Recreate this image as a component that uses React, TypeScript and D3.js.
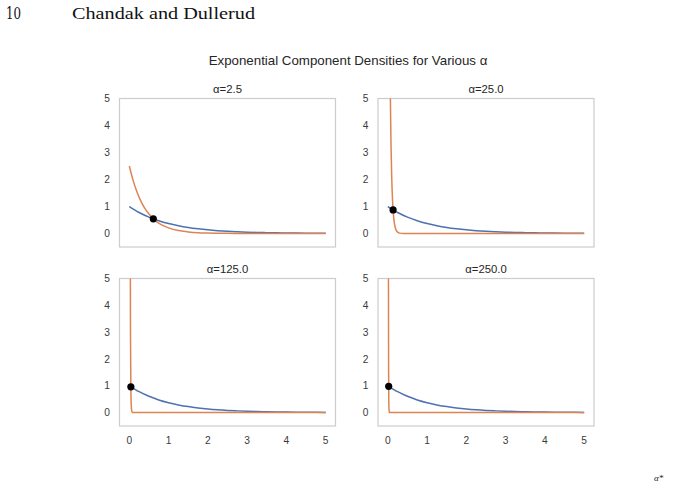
import React from "react";
import * as d3 from "d3";

// Sampled densities on x in [0, 5]
const blueX = [0, 0.25, 0.5, 0.75, 1, 1.25, 1.5, 1.75, 2, 2.25, 2.5, 2.75, 3, 3.25, 3.5, 3.75, 4, 4.25, 4.5, 4.75, 5];
const blueY = [1, 0.779, 0.607, 0.472, 0.368, 0.287, 0.223, 0.174, 0.135, 0.105, 0.082, 0.064, 0.05, 0.039, 0.03, 0.024, 0.018, 0.014, 0.011, 0.009, 0.007];

const orangeX_2_5 = [0, 0.1, 0.2, 0.3, 0.4, 0.5, 0.6, 0.7, 0.8, 1, 1.25, 1.5, 1.75, 2, 2.5, 3, 5];
const orangeY_2_5 = [2.5, 1.95, 1.52, 1.18, 0.92, 0.72, 0.56, 0.43, 0.34, 0.21, 0.11, 0.06, 0.03, 0.017, 0.005, 0.001, 0];

const orangeX_25 = [0, 0.02, 0.04, 0.06, 0.08, 0.1, 0.12, 0.14, 0.16, 0.18, 0.2, 0.25, 0.3, 0.4, 5];
const orangeY_25 = [25, 15.2, 9.2, 5.58, 3.38, 2.05, 1.24, 0.75, 0.46, 0.28, 0.17, 0.05, 0.014, 0.001, 0];

const orangeX_125 = [0, 0.01, 0.02, 0.03, 0.04, 0.05, 0.06, 0.08, 0.1, 5];
const orangeY_125 = [125, 35.8, 10.26, 2.94, 0.842, 0.241, 0.069, 0.006, 0.0005, 0];

const orangeX_250 = [0, 0.005, 0.01, 0.015, 0.02, 0.025, 0.03, 0.04, 0.05, 5];
const orangeY_250 = [250, 71.6, 20.5, 5.88, 1.68, 0.48, 0.14, 0.011, 0.0009, 0];

const alphaLabels = ["α=2.5", "α=25.0", "α=125.0", "α=250.0"];
const crossX = [0.611, 0.134, 0.039, 0.022];
const crossY = [0.543, 0.874, 0.962, 0.978];

const xTicks = [0, 1, 2, 3, 4, 5];
const yTicks = [0, 1, 2, 3, 4, 5];

const orangeXs = [orangeX_2_5, orangeX_25, orangeX_125, orangeX_250];
const orangeYs = [orangeY_2_5, orangeY_25, orangeY_125, orangeY_250];

const BLUE = "#4c72b0";
const ORANGE = "#dd8452";
const SANS = "'Liberation Sans', Arial, sans-serif";

const cols = [
  { left: 119.5, right: 335.5 },
  { left: 378, right: 594 },
];
const rows = [
  { top: 98.5, bottom: 247 },
  { top: 278.5, bottom: 426 },
];

function Panel({ idx }: { idx: number }) {
  const c = cols[idx % 2];
  const r = rows[Math.floor(idx / 2)];
  const x = d3.scaleLinear().domain([-0.25, 5.25]).range([c.left, c.right]);
  const y = d3.scaleLinear().domain([-0.5, 5]).range([r.bottom, r.top]);
  const line = d3
    .line<[number, number]>()
    .x((d) => x(d[0]))
    .y((d) => y(d[1]))
    .curve(d3.curveMonotoneX);
  const blue = line(blueX.map((v, i) => [v, blueY[i]] as [number, number])) || "";
  const ox = orangeXs[idx];
  const oy = orangeYs[idx];
  const orange = line(ox.map((v, i) => [v, oy[i]] as [number, number])) || "";
  const clipId = `clip-${idx}`;
  const showX = idx >= 2;
  return (
    <g>
      <defs>
        <clipPath id={clipId}>
          <rect x={c.left} y={r.top} width={c.right - c.left} height={r.bottom - r.top} />
        </clipPath>
      </defs>
      <rect
        x={c.left}
        y={r.top}
        width={c.right - c.left}
        height={r.bottom - r.top}
        fill="#fff"
        stroke="#cccccc"
        strokeWidth={1.2}
      />
      <g clipPath={`url(#${clipId})`}>
        <path d={blue} fill="none" stroke={BLUE} strokeWidth={1.5} />
        <path d={orange} fill="none" stroke={ORANGE} strokeWidth={1.5} />
      </g>
      <circle cx={x(crossX[idx])} cy={y(crossY[idx])} r={3.6} fill="#000" />
      {yTicks.map((t) => (
        <text
          key={t}
          x={c.left - 9.5}
          y={y(t)}
          dy="0.36em"
          textAnchor="end"
          fontSize={10.2}
          fill="#3a3a3a"
          fontFamily={SANS}
        >
          {t}
        </text>
      ))}
      {showX &&
        xTicks.map((t) => (
          <text
            key={t}
            x={x(t)}
            y={r.bottom + 17.5}
            textAnchor="middle"
            fontSize={10.2}
            fill="#3a3a3a"
            fontFamily={SANS}
          >
            {t}
          </text>
        ))}
      <text
        x={(c.left + c.right) / 2}
        y={r.top - 5.5}
        textAnchor="middle"
        fontSize={11.3}
        fill="#262626"
        fontFamily={SANS}
      >
        {alphaLabels[idx]}
      </text>
    </g>
  );
}

export default function App() {
  return (
    <svg
      width={673}
      height={483}
      style={{ position: "absolute", left: 0, top: 0, background: "#fff" }}
    >
      <rect width={673} height={483} fill="#fff" />
      <text x={6} y={18.5} fontSize={17} fontFamily="'DejaVu Serif', 'Liberation Serif', serif" fill="#111" textLength={15} lengthAdjust="spacingAndGlyphs">
        10
      </text>
      <text x={72} y={18.5} fontSize={17} fontFamily="'Liberation Serif', serif" fill="#111" textLength={183} lengthAdjust="spacingAndGlyphs">
        Chandak and Dullerud
      </text>
      <text x={348} y={65} textAnchor="middle" fontSize={13.3} fill="#262626" fontFamily={SANS}>
        Exponential Component Densities for Various α
      </text>
      {[0, 1, 2, 3].map((i) => (
        <Panel key={i} idx={i} />
      ))}
      <text x={654} y={481} fontSize={9} fontFamily="'Liberation Serif', serif" fontStyle="italic" fill="#222">
        α*
      </text>
    </svg>
  );
}
